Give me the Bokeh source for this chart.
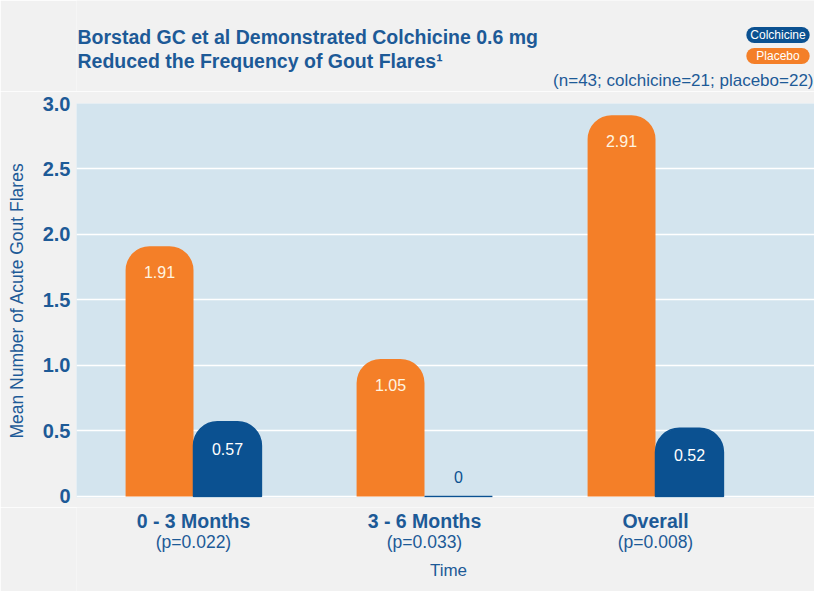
import numpy as np
from bokeh.plotting import figure
from bokeh.layouts import column
from bokeh.models import (Range1d, Label, LabelSet, ColumnDataSource, FixedTicker,
                          PrintfTickFormatter)
from bokeh.core.properties import value
from bokeh.transform import dodge
from bokeh.embed import file_html
from bokeh.resources import INLINE

# ---- data ----
groups = ["0 - 3 Months", "3 - 6 Months", "Overall"]
p_values = ["(p=0.022)", "(p=0.033)", "(p=0.008)"]
placebo = [1.91, 1.05, 2.91]
colchicine = [0.57, 0.0, 0.52]
y_ticks = [0, 0.5, 1.0, 1.5, 2.0, 2.5, 3.0]
title_lines = ["Borstad GC et al Demonstrated Colchicine 0.6 mg",
               "Reduced the Frequency of Gout Flares\u00b9"]
sample_note = "(n=43; colchicine=21; placebo=22)"
series_names = ["Colchicine", "Placebo"]
x_title = "Time"
y_title = "Mean Number of Acute Gout Flares"

# ---- style ----
ORANGE = "#f47f28"
NAVY = "#0b5191"
TEXT = "#1d5a97"
FONT = "Liberation Sans"
PAGE_BG = "#f1f1f1"
PLOT_BG = "#d3e4ee"
W = 814
LEFT = 76
TOP_H = 91
PAD_T, PAD_B = 12, 10
FRAME_H = 394
MAIN_H = FRAME_H + PAD_T + PAD_B
TOTAL_H = 591
BOT_H = TOTAL_H - TOP_H - MAIN_H


def blank(fig):
    fig.background_fill_color = PAGE_BG
    fig.border_fill_color = PAGE_BG
    fig.outline_line_color = None
    fig.grid.visible = False
    return fig


# ---- header (coordinates = page pixels) ----
head = blank(figure(width=W, height=TOP_H, output_backend="svg", toolbar_location=None,
                    x_range=Range1d(LEFT, W), y_range=Range1d(TOP_H, 0),
                    x_axis_location=None, y_axis_location=None,
                    min_border_left=LEFT, min_border_right=0, min_border_top=0,
                    min_border_bottom=0))
for i, t in enumerate(title_lines):
    head.add_layout(Label(x=77, y=36 + 24 * i, text=t, text_align="left",
                          text_baseline="middle", text_font=FONT,
                          text_font_style="bold", text_font_size="19.5px",
                          text_color=TEXT))
head.add_layout(Label(x=813, y=80, text=sample_note, text_align="right",
                      text_baseline="middle", text_font=FONT, text_font_size="17px",
                      text_color=TEXT))
pill_cols = [NAVY, ORANGE]
pill_pad = [(4, 1), (10, 1)]
for i, name in enumerate(series_names):
    head.add_layout(Label(x=777.5, y=34.5 + 21 * i, text=name, text_align="center",
                          text_baseline="middle", text_font=FONT,
                          text_font_size="12px", text_color="white",
                          background_fill_color=pill_cols[i], border_radius=8,
                          padding=pill_pad[i]))

# ---- main chart ----
idx = np.arange(len(groups))
bar_w = 0.294
src = ColumnDataSource(dict(
    x=idx,
    placebo=placebo,
    colchicine=colchicine,
    pl_lab=[f"{v:g}" for v in placebo],
    co_lab=[f"{v:g}" for v in colchicine],
    co_off=[27 if v > 0 else -19 for v in colchicine],
    co_col=["#ffffff" if v > 0 else NAVY for v in colchicine],
))

p = figure(width=W, height=MAIN_H, output_backend="svg", toolbar_location=None,
           x_range=Range1d(-0.5065, 2.6883), y_range=Range1d(-0.008, 3.0),
           x_axis_location=None,
           min_border_left=LEFT, min_border_right=0, min_border_top=PAD_T,
           min_border_bottom=PAD_B)
p.background_fill_color = PLOT_BG
p.border_fill_color = PAGE_BG
p.outline_line_color = None
p.xgrid.visible = False
p.ygrid.ticker = FixedTicker(ticks=y_ticks)
p.ygrid.grid_line_color = "white"
p.ygrid.grid_line_width = 1.5

ax = p.yaxis[0]
ax.ticker = FixedTicker(ticks=y_ticks)
ax.formatter = PrintfTickFormatter(format="%.1f")
ax.major_label_overrides = {0: "0"}
ax.axis_line_color = None
ax.major_tick_line_color = None
ax.minor_tick_line_color = None
ax.major_tick_in = 0
ax.major_tick_out = 0
ax.major_label_standoff = 6
ax.major_label_text_font = FONT
ax.major_label_text_font_style = "bold"
ax.major_label_text_font_size = "20px"
ax.major_label_text_color = TEXT
ax.axis_label = y_title
ax.axis_label_text_font = FONT
ax.axis_label_text_font_style = "normal"
ax.axis_label_text_font_size = "17.5px"
ax.axis_label_text_color = TEXT
ax.axis_label_standoff = 13

p.vbar(x=dodge("x", -bar_w / 2, range=p.x_range), top="placebo", width=bar_w,
       source=src, fill_color=ORANGE, line_color=None,
       border_radius=(24, 24, 0, 0))
p.vbar(x=dodge("x", bar_w / 2, range=p.x_range), top="colchicine", width=bar_w,
       source=src, fill_color=NAVY, line_color=NAVY, line_width=1.5,
       border_radius=(24, 24, 0, 0))

p.text(x=dodge("x", -bar_w / 2, range=p.x_range), y="placebo", text="pl_lab",
       source=src, y_offset=26, text_align="center", text_baseline="middle",
       text_color="#fff4e0", text_font=value(FONT), text_font_size="16px")
p.text(x=dodge("x", bar_w / 2, range=p.x_range), y="colchicine", text="co_lab",
       source=src, y_offset="co_off", text_align="center", text_baseline="middle",
       text_color="co_col", text_font=value(FONT), text_font_size="16px")

# ---- footer (category labels share the chart's x range; y = page pixels) ----
foot = blank(figure(width=W, height=BOT_H, output_backend="svg", toolbar_location=None,
                    x_range=p.x_range, y_range=Range1d(TOTAL_H, TOTAL_H - BOT_H),
                    x_axis_location=None, y_axis_location=None,
                    min_border_left=LEFT, min_border_right=0, min_border_top=0,
                    min_border_bottom=0))
lab_src = ColumnDataSource(dict(x=idx, g=groups, pv=p_values,
                                y1=[520] * len(groups), y2=[541] * len(groups)))
foot.add_layout(LabelSet(x="x", y="y1", text="g", source=lab_src,
                         text_align="center", text_baseline="middle",
                         text_font=value(FONT), text_font_style="bold",
                         text_font_size="19.5px", text_color=TEXT))
foot.add_layout(LabelSet(x="x", y="y2", text="pv", source=lab_src,
                         text_align="center", text_baseline="middle",
                         text_font=value(FONT), text_font_size="17.5px",
                         text_color=TEXT))
foot.add_layout(Label(x=448, y=570, x_units="canvas", text=x_title,
                      text_align="center", text_baseline="middle", text_font=FONT,
                      text_font_size="17px", text_color=TEXT))

layout = column(head, p, foot, spacing=0)
open("out.html", "w").write(file_html(layout, INLINE))
